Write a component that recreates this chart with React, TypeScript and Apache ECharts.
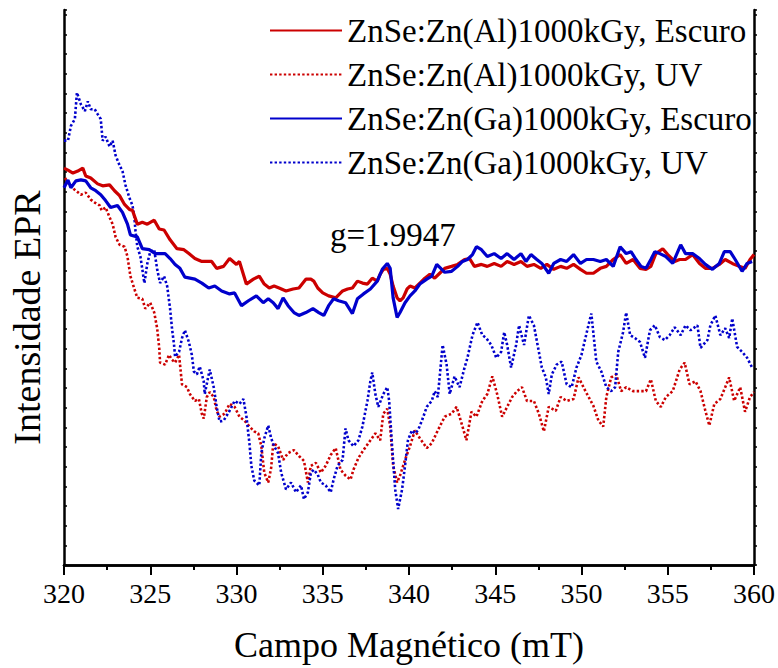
import React, { useEffect, useRef } from "react";
import * as echarts from "echarts";

// Field (mT) vs EPR intensity (arb. units)
const alEscuro: [number, number][] = [
  [320.00,404],[320.23,402],[320.52,399],[320.80,401],[321.09,404],[321.26,396],[321.55,394],[321.95,388],[322.24,386],[322.64,387],
  [322.93,381],[323.22,376],[323.51,367],[323.79,362],[323.97,361],[324.25,347],[324.54,349],[324.83,347],[325.23,351],[325.52,342],
  [325.80,341],[326.15,331],[326.55,322],[326.95,321],[327.24,317],[327.59,312],[327.99,309],[328.28,309],[328.56,309],[328.85,302],
  [329.25,304],[329.60,312],[330.00,306],[330.17,309],[330.57,286],[330.98,291],[331.32,294],[331.61,286],[331.90,282],[332.18,284],
  [332.47,282],[332.87,279],[333.28,281],[333.62,282],[334.02,291],[334.31,291],[334.48,289],[334.71,282],[335.00,277],[335.34,274],
  [335.75,272],[336.15,279],[336.44,281],[336.72,282],[337.01,289],[337.30,287],[337.59,286],[337.87,292],[338.16,289],[338.33,296],
  [338.51,301],[338.74,302],[338.91,296],[339.08,284],[339.31,272],[339.48,269],[339.66,272],[339.89,281],[340.06,284],[340.34,282],
  [340.63,287],[340.92,292],[341.21,296],[341.49,292],[341.78,297],[342.07,302],[342.47,304],[342.82,306],[343.22,311],[343.51,312],
  [343.79,304],[344.20,306],[344.54,304],[344.94,307],[345.34,304],[345.69,309],[346.09,306],[346.49,309],[346.84,304],[347.24,306],
  [347.64,302],[347.99,306],[348.39,301],[348.79,304],[349.14,302],[349.54,306],[349.94,301],[350.29,297],[350.69,297],[351.09,302],
  [351.44,304],[351.84,311],[352.24,316],[352.59,307],[352.99,311],[353.39,302],[353.74,301],[354.02,304],[354.31,317],[354.71,322],
  [355.00,316],[355.40,309],[355.69,311],[356.03,311],[356.44,316],[356.84,307],[357.18,302],[357.59,302],[357.99,306],[358.33,311],
  [358.74,307],[359.14,304],[359.48,302],[359.77,311],[360.00,316]
];

const alUV: [number, number][] = [
  [320.06,394],[320.34,386],[320.69,381],[320.98,377],[321.26,379],[321.55,372],[321.78,369],[322.07,366],[322.18,361],[322.41,364],
  [322.64,354],[322.82,347],[322.99,334],[323.22,326],[323.51,324],[323.68,314],[323.85,294],[324.08,281],[324.25,272],[324.54,271],
  [324.71,261],[325.00,267],[325.23,257],[325.40,241],[325.52,221],[325.57,206],[325.86,204],[326.09,214],[326.26,209],[326.44,206],
  [326.67,214],[326.84,184],[327.13,181],[327.30,174],[327.59,167],[327.82,169],[327.99,154],[328.10,149],[328.28,171],[328.45,176],
  [328.68,171],[328.85,157],[329.02,151],[329.31,154],[329.60,164],[329.89,161],[330.17,151],[330.46,147],[330.75,141],[331.03,136],
  [331.26,134],[331.44,121],[331.61,94],[331.84,84],[332.01,99],[332.13,124],[332.41,121],[332.70,107],[332.99,114],[333.33,117],
  [333.62,111],[333.91,106],[334.14,84],[334.31,101],[334.60,104],[334.89,94],[335.17,101],[335.46,112],[335.75,119],[336.03,97],
  [336.32,91],[336.61,87],[336.78,97],[337.07,109],[337.36,117],[337.64,124],[338.05,134],[338.33,127],[338.51,154],[338.74,159],
  [338.91,141],[339.08,101],[339.31,84],[339.48,91],[339.77,107],[340.06,121],[340.34,137],[340.63,129],[341.03,119],[341.32,124],
  [341.67,137],[342.07,151],[342.47,154],[342.76,161],[343.05,144],[343.33,127],[343.62,156],[343.91,151],[344.25,167],[344.54,174],
  [344.83,192],[345.11,174],[345.40,151],[345.69,161],[345.98,171],[346.26,177],[346.55,181],[346.84,167],[347.24,167],[347.53,154],
  [347.82,136],[348.10,161],[348.51,157],[348.79,171],[349.14,167],[349.54,169],[349.83,191],[350.23,177],[350.69,162],[350.98,147],
  [351.26,141],[351.44,171],[351.72,191],[352.01,194],[352.30,177],[352.59,181],[352.99,177],[353.39,177],[353.74,177],[354.02,189],
  [354.31,167],[354.60,161],[354.89,171],[355.29,177],[355.69,199],[355.98,206],[356.26,184],[356.61,187],[356.90,177],[357.18,157],
  [357.41,142],[357.70,164],[358.05,169],[358.33,181],[358.56,191],[358.85,167],[359.20,181],[359.48,156],[359.77,171],[360.00,176]
];

const gaEscuro: [number, number][] = [
  [320.00,384],[320.23,392],[320.40,384],[320.69,391],[320.98,392],[321.26,391],[321.55,384],[321.84,381],[322.13,377],[322.41,371],
  [322.70,364],[323.10,366],[323.39,359],[323.68,347],[323.85,336],[324.25,334],[324.54,322],[324.94,321],[325.29,317],[325.86,317],
  [326.15,312],[326.44,306],[326.72,302],[327.01,293],[327.30,292],[327.59,291],[327.99,287],[328.39,282],[328.74,284],[329.14,279],
  [329.60,276],[329.89,277],[330.29,264],[330.69,269],[331.15,274],[331.55,267],[331.84,271],[332.13,267],[332.41,261],[332.70,272],
  [332.99,264],[333.33,257],[333.62,254],[334.02,257],[334.43,261],[334.77,257],[335.06,254],[335.34,264],[335.63,271],[335.92,269],
  [336.32,267],[336.72,256],[337.01,271],[337.36,276],[337.76,281],[338.16,289],[338.45,301],[338.74,307],[338.91,302],[339.08,272],
  [339.31,252],[339.48,257],[339.77,267],[340.06,274],[340.34,279],[340.63,286],[341.03,291],[341.32,294],[341.61,306],[341.90,301],
  [342.07,298],[342.47,299],[342.82,304],[343.10,309],[343.39,311],[343.68,316],[343.91,324],[344.20,321],[344.54,314],[344.94,317],
  [345.34,312],[345.69,317],[346.09,311],[346.49,317],[346.78,309],[347.07,316],[347.41,311],[347.70,307],[348.10,297],[348.39,307],
  [348.79,311],[349.14,309],[349.54,316],[349.94,307],[350.29,311],[350.69,311],[351.09,309],[351.44,311],[351.84,304],[352.24,324],
  [352.59,317],[352.87,319],[353.16,311],[353.45,304],[353.74,302],[354.02,311],[354.25,319],[354.54,317],[354.89,314],[355.29,307],
  [355.75,326],[356.03,317],[356.44,317],[356.84,312],[357.18,306],[357.59,301],[357.99,307],[358.28,319],[358.62,319],[358.91,311],
  [359.31,299],[359.60,307],[359.89,309]
];

const gaUV: [number, number][] = [
  [320.00,432],[320.23,432],[320.40,447],[320.63,454],[320.75,481],[320.98,469],[321.21,462],[321.38,472],[321.55,464],[321.78,464],
  [321.95,459],[322.13,454],[322.24,432],[322.41,436],[322.64,426],[322.82,432],[322.99,417],[323.22,407],[323.39,401],[323.56,387],
  [323.79,374],[323.97,366],[324.08,354],[324.14,341],[324.25,324],[324.43,314],[324.66,287],[324.83,307],[325.00,319],[325.23,321],
  [325.40,301],[325.57,287],[325.80,294],[325.98,284],[326.15,261],[326.26,241],[326.38,224],[326.44,212],[326.67,217],[326.84,231],
  [327.01,239],[327.24,227],[327.41,214],[327.53,197],[327.70,194],[327.87,202],[328.10,187],[328.16,174],[328.39,194],[328.45,199],
  [328.68,181],[328.85,161],[329.02,146],[329.25,147],[329.43,152],[329.60,157],[329.89,167],[330.17,164],[330.40,169],[330.57,152],
  [330.75,124],[330.86,101],[331.03,86],[331.15,84],[331.32,81],[331.44,114],[331.61,129],[331.84,142],[332.01,129],[332.18,121],
  [332.41,114],[332.59,94],[332.87,77],[333.16,84],[333.45,74],[333.74,81],[333.91,67],[334.14,74],[334.31,94],[334.48,97],
  [334.71,92],[334.89,84],[335.17,81],[335.46,74],[335.63,87],[335.86,101],[336.15,107],[336.32,139],[336.49,127],[336.78,121],
  [337.07,127],[337.30,141],[337.59,167],[337.76,187],[337.87,196],[338.05,174],[338.22,161],[338.51,174],[338.74,181],[338.85,167],
  [339.02,121],[339.20,77],[339.37,57],[339.60,77],[339.77,101],[339.94,127],[340.17,137],[340.34,134],[340.52,137],[340.75,147],
  [341.03,161],[341.32,167],[341.49,177],[341.67,171],[341.95,224],[342.18,204],[342.36,174],[342.64,192],[342.93,181],[343.22,201],
  [343.39,211],[343.68,234],[343.97,247],[344.25,234],[344.48,231],[344.77,224],[345.06,211],[345.34,217],[345.52,237],[345.69,224],
  [345.92,201],[346.21,224],[346.38,244],[346.67,224],[346.95,254],[347.24,244],[347.53,217],[347.70,201],[347.93,191],[348.10,174],
  [348.28,194],[348.56,204],[348.85,207],[349.14,184],[349.43,181],[349.71,201],[350.00,214],[350.40,244],[350.57,256],[350.86,207],
  [351.15,197],[351.44,181],[351.72,177],[351.95,181],[352.13,217],[352.41,237],[352.59,257],[352.82,234],[353.10,231],[353.39,227],
  [353.68,211],[353.97,239],[354.25,244],[354.54,232],[354.83,229],[355.11,234],[355.40,242],[355.75,234],[356.03,244],[356.32,239],
  [356.72,244],[356.90,221],[357.30,229],[357.47,244],[357.76,254],[358.05,234],[358.33,241],[358.56,231],[358.74,251],[359.02,222],
  [359.31,217],[359.60,211],[359.89,201]
];

const seriesNames = [
  "ZnSe:Zn(Al)1000kGy, Escuro",
  "ZnSe:Zn(Al)1000kGy, UV",
  "ZnSe:Zn(Ga)1000kGy, Escuro",
  "ZnSe:Zn(Ga)1000kGy, UV",
];
const xTicks = { min: 320, max: 360, step: 5 };
const gLabel = "g=1.9947";

const RED = "#CC0000";
const BLUE = "#0000CC";
const FONT = "Liberation Serif";

export default function App() {
  const ref = useRef<HTMLDivElement>(null);
  useEffect(() => {
    if (!ref.current) return;
    const chart = echarts.init(ref.current, undefined, { renderer: "svg" });
    const solid = (c: string) => ({ color: c, width: 3.2, type: "solid" as const });
    const dotted = (c: string) => ({ color: c, width: 2.6, type: [2.4, 2.2] as number[] });
    const axisLine = { show: true, lineStyle: { color: "#000", width: 2.5 } };
    chart.setOption({
      animation: false,
      backgroundColor: "#fff",
      textStyle: { fontFamily: FONT },
      grid: { left: 61, right: 21, top: 10, bottom: 94, containLabel: false },
      legend: {
        orient: "vertical",
        left: 264,
        top: 9,
        itemWidth: 72,
        itemHeight: 14,
        itemGap: 11,
        itemStyle: { opacity: 0 },
        textStyle: { fontFamily: FONT, fontSize: 33, color: "#000", lineHeight: 30 },
        data: seriesNames,
      },
      xAxis: [
        {
          type: "value",
          min: xTicks.min,
          max: xTicks.max,
          interval: xTicks.step,
          position: "bottom",
          name: "Campo Magnético (mT)",
          nameLocation: "middle",
          nameGap: 62,
          nameTextStyle: { fontFamily: FONT, fontSize: 36, color: "#000" },
          axisLine,
          axisTick: { show: true, inside: false, length: 10, lineStyle: { color: "#000", width: 2 } },
          minorTick: { show: true, splitNumber: 2, length: 5, lineStyle: { color: "#000", width: 2 } },
          axisLabel: { fontFamily: FONT, fontSize: 28, color: "#000", margin: 14 },
          splitLine: { show: false },
        },
        {
          type: "value",
          min: xTicks.min,
          max: xTicks.max,
          interval: xTicks.step,
          position: "top",
          axisLine,
          axisTick: { show: true, inside: true, length: 2, lineStyle: { color: "#000", width: 1.5 } },
          minorTick: { show: true, splitNumber: 2, length: 2, lineStyle: { color: "#000", width: 1.5 } },
          axisLabel: { show: false },
          splitLine: { show: false },
        },
      ],
      yAxis: [
        {
          type: "value",
          min: 0,
          max: 565,
          interval: 20,
          position: "left",
          name: "Intensidade EPR",
          nameLocation: "middle",
          nameGap: 18,
          nameTextStyle: { fontFamily: FONT, fontSize: 38, color: "#000", padding: [0, 60, 0, 0] },
          axisLine,
          axisTick: { show: true, inside: true, length: 3, lineStyle: { color: "#000", width: 1.5 } },
          axisLabel: { show: false },
          splitLine: { show: false },
        },
        {
          type: "value",
          min: 0,
          max: 565,
          interval: 20,
          position: "right",
          axisLine,
          axisTick: { show: true, inside: false, length: 3, lineStyle: { color: "#000", width: 1.5 } },
          axisLabel: { show: false },
          splitLine: { show: false },
        },
      ],
      graphic: [
        {
          type: "text",
          left: 330,
          top: 218,
          style: { text: gLabel, fontFamily: FONT, fontSize: 33, fill: "#000" },
        },
      ],
      series: [
        { name: seriesNames[0], type: "line", data: alEscuro, symbol: "none", lineStyle: solid(RED), itemStyle: { color: RED }, z: 3 },
        { name: seriesNames[1], type: "line", data: alUV, symbol: "none", lineStyle: dotted(RED), itemStyle: { color: RED }, z: 2 },
        { name: seriesNames[2], type: "line", data: gaEscuro, symbol: "none", lineStyle: solid(BLUE), itemStyle: { color: BLUE }, z: 4 },
        { name: seriesNames[3], type: "line", data: gaUV, symbol: "none", lineStyle: dotted(BLUE), itemStyle: { color: BLUE }, z: 2 },
      ],
    });
    return () => chart.dispose();
  }, []);
  return (
    <div
      ref={ref}
      style={{ position: "fixed", left: 0, top: 0, width: 778, height: 668, background: "#fff" }}
    />
  );
}
